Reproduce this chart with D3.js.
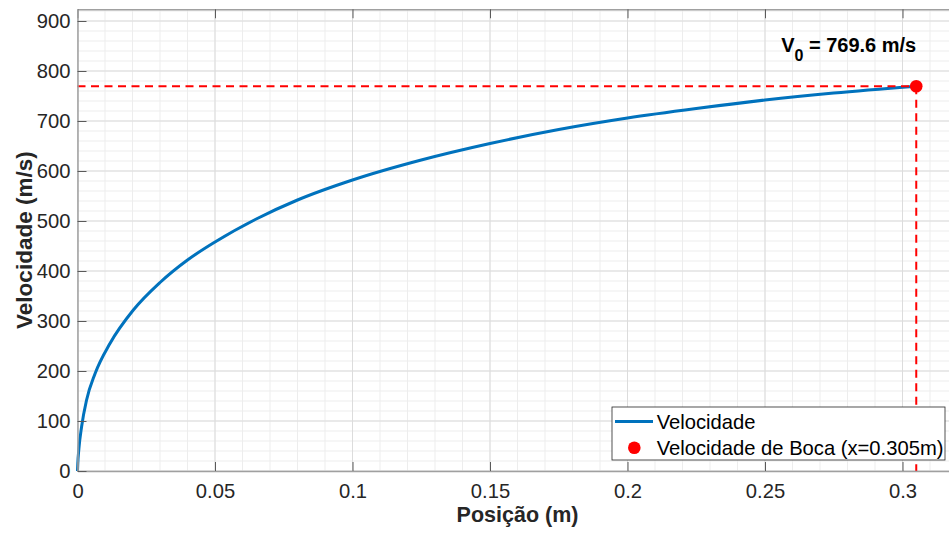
<!DOCTYPE html>
<html>
<head>
<meta charset="utf-8">
<script src="https://cdn.jsdelivr.net/npm/d3@7"></script>
<style>
  body { margin: 0; background: #fff; }
  svg { display: block; font-family: "Liberation Sans", Arial, sans-serif; }
</style>
</head>
<body>
<div id="container"></div>
<script>
// posição (m) e velocidade (m/s)
var posicao = [0, 0.0001, 0.0005, 0.0015, 0.0033, 0.0064, 0.0118, 0.0203, 0.030, 0.040, 0.050,
    0.065, 0.080, 0.100, 0.125, 0.150, 0.175, 0.200, 0.225, 0.250, 0.275, 0.305];
var velocidade = [0, 14, 44, 89, 142, 195, 255, 322, 377, 422, 458,
    504, 542, 582, 622, 655, 683, 706, 725, 742, 756, 769.6];

var x_boca = 0.305;
var v_boca = 769.6;

var x_ticks = [0, 0.05, 0.1, 0.15, 0.2, 0.25, 0.3];
var y_ticks = [0, 100, 200, 300, 400, 500, 600, 700, 800, 900];

var legend_labels = ["Velocidade", "Velocidade de Boca (x=0.305m)"];

var W = 949, H = 533;
var margin = {top: 9.25, right: -8.5, bottom: 62, left: 77.5};
var width = W - margin.left - margin.right,
    height = H - margin.top - margin.bottom;

var svg = d3.select("#container")
  .append("svg")
    .attr("width", W)
    .attr("height", H);

var g = svg.append("g")
    .attr("transform", "translate(" + margin.left + "," + margin.top + ")");

var x = d3.scaleLinear().domain([0, 0.32]).range([0, width]);
var y = d3.scaleLinear().domain([0, v_boca * 1.2]).range([height, 0]);

// minor grid
g.selectAll(".minorx")
  .data(d3.range(0, 33).map(function(i){ return i / 100; }))
  .enter().append("line")
    .attr("x1", function(d){ return x(d); })
    .attr("x2", function(d){ return x(d); })
    .attr("y1", 0).attr("y2", height)
    .attr("stroke", "#ededed").attr("stroke-width", 1);
g.selectAll(".minory")
  .data(d3.range(0, 47).map(function(i){ return i * 20; }))
  .enter().append("line")
    .attr("x1", 0).attr("x2", width)
    .attr("y1", function(d){ return y(d); })
    .attr("y2", function(d){ return y(d); })
    .attr("stroke", "#ededed").attr("stroke-width", 1);

// major grid
g.selectAll(".gridx")
  .data(x_ticks).enter().append("line")
    .attr("x1", function(d){ return x(d); })
    .attr("x2", function(d){ return x(d); })
    .attr("y1", 0).attr("y2", height)
    .attr("stroke", "#dcdcdc").attr("stroke-width", 1);
g.selectAll(".gridy")
  .data(y_ticks).enter().append("line")
    .attr("x1", 0).attr("x2", width)
    .attr("y1", function(d){ return y(d); })
    .attr("y2", function(d){ return y(d); })
    .attr("stroke", "#dcdcdc").attr("stroke-width", 1);

// curva de velocidade
var line = d3.line()
    .x(function(d){ return x(d[0]); })
    .y(function(d){ return y(d[1]); })
    .curve(d3.curveMonotoneX);

g.append("path")
    .datum(d3.zip(posicao, velocidade))
    .attr("d", line)
    .attr("fill", "none")
    .attr("stroke", "#0072BD")
    .attr("stroke-width", 3);

// linhas tracejadas até o ponto de boca
g.append("line")
    .attr("x1", 0).attr("x2", x(x_boca))
    .attr("y1", y(v_boca)).attr("y2", y(v_boca))
    .attr("stroke", "#ff0000").attr("stroke-width", 2)
    .attr("stroke-dasharray", "8,5.5");
g.append("line")
    .attr("x1", x(x_boca)).attr("x2", x(x_boca))
    .attr("y1", y(v_boca)).attr("y2", height)
    .attr("stroke", "#ff0000").attr("stroke-width", 2)
    .attr("stroke-dasharray", "8,5.5");

g.append("circle")
    .attr("cx", x(x_boca)).attr("cy", y(v_boca))
    .attr("r", 6.3)
    .attr("fill", "#ff0000");

// eixos
var xAxis = g.append("g")
    .attr("transform", "translate(0," + height + ")")
    .call(d3.axisBottom(x).tickValues(x_ticks).tickSizeInner(-9).tickSizeOuter(0).tickPadding(12.5)
        .tickFormat(function(d){ return String(+d.toFixed(2)); }));
var xTop = g.append("g")
    .call(d3.axisTop(x).tickValues(x_ticks).tickSizeInner(-9).tickSizeOuter(0).tickFormat(""));
var yAxis = g.append("g")
    .call(d3.axisLeft(y).tickValues(y_ticks).tickSizeInner(-9).tickSizeOuter(0).tickPadding(7));

[xAxis, xTop, yAxis].forEach(function(a){
    a.select(".domain").attr("stroke", "#a0a0a0").attr("stroke-width", 1.5);
    a.selectAll(".tick line").attr("stroke", "#5a5a5a");
    a.selectAll(".tick text")
        .attr("fill", "#262626")
        .attr("font-size", "20.2px")
        .attr("font-family", "Liberation Sans, Arial, sans-serif");
});

// rótulos dos eixos
svg.append("text")
    .attr("x", margin.left + width / 2)
    .attr("y", 522)
    .attr("text-anchor", "middle")
    .attr("font-size", "21.5px")
    .attr("font-weight", "bold")
    .attr("fill", "#262626")
    .text("Posição (m)");

svg.append("text")
    .attr("transform", "translate(32," + (margin.top + height / 2) + ") rotate(-90)")
    .attr("text-anchor", "middle")
    .attr("font-size", "22.5px")
    .attr("font-weight", "bold")
    .attr("fill", "#262626")
    .text("Velocidade (m/s)");

// anotação V0
var ann = g.append("text")
    .attr("x", x(x_boca))
    .attr("y", 52.3 - margin.top)
    .attr("text-anchor", "end")
    .attr("font-size", "20px")
    .attr("font-weight", "bold")
    .attr("fill", "#000");
ann.append("tspan").text("V");
ann.append("tspan").attr("font-size", "16px").attr("dy", 9).text("0");
ann.append("tspan").attr("dy", -9).text(" = " + v_boca.toFixed(1) + " m/s");

// legenda
var leg = svg.append("g").attr("transform", "translate(612,407)");
leg.append("rect")
    .attr("width", 333).attr("height", 53)
    .attr("fill", "#fff")
    .attr("stroke", "#262626").attr("stroke-width", 0.8);
leg.append("line")
    .attr("x1", 3).attr("x2", 41).attr("y1", 14.5).attr("y2", 14.5)
    .attr("stroke", "#0072BD").attr("stroke-width", 3);
leg.append("circle")
    .attr("cx", 22.3).attr("cy", 40.7).attr("r", 6.3)
    .attr("fill", "#ff0000");
leg.selectAll(".lbl")
  .data(legend_labels).enter().append("text")
    .attr("x", 44.7)
    .attr("y", function(d, i){ return 21.5 + i * 26.5; })
    .attr("font-size", "20.2px")
    .attr("fill", "#000")
    .text(function(d){ return d; });
</script>
</body>
</html>
